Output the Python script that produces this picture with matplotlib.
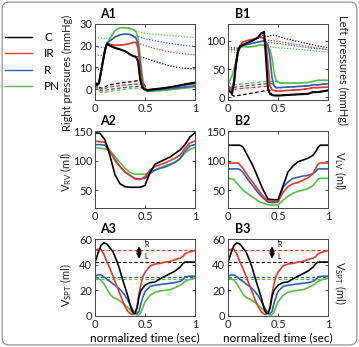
import matplotlib
matplotlib.use('Agg')
import matplotlib.pyplot as plt
from matplotlib.patches import FancyBboxPatch

plt.rcParams['font.family'] = ['Lato', 'DejaVu Sans']
plt.rcParams['mathtext.fontset'] = 'custom'
plt.rcParams['mathtext.rm'] = 'Lato'
plt.rcParams['mathtext.it'] = 'Lato:italic'
plt.rcParams['font.size'] = 8

names = ['C', 'IR', 'R', 'PN']
colors = ['black', '#e5392b', '#2f5fb8', '#5bbb48']

# ---- A1: right heart pressures (mmHg) ----
t_a1 = [0, 0.02, 0.04, 0.06, 0.08, 0.1, 0.12, 0.15, 0.2, 0.25, 0.3, 0.35,
        0.38, 0.41, 0.43, 0.45, 0.47, 0.49, 0.52, 0.6, 0.7, 0.8, 0.9, 1.0]
rv_p = [
    [3, 2, 3, 8, 13, 18, 21, 20, 19, 18.3, 17.5, 16, 15.3, 14.8, 13, 5, 1, 0, -0.5, 0, 0.5, 1.3, 2.2, 3],
    [2.6, 2, 3, 8, 13, 18, 21, 20.6, 20.2, 20.3, 20.5, 21, 21.5, 21.5, 19, 10, 3, 0.5, -0.3, 0, 0.5, 1.2, 2, 2.6],
    [2, 1.5, 2.5, 7.5, 13, 18, 21, 22.3, 24, 25, 25.4, 25.2, 24.5, 23.5, 21, 13, 4, 0.5, -0.8, -0.5, 0, 0.5, 1, 1.5],
    [1.5, 1.5, 3, 8, 13, 18, 21, 23.5, 27, 28.3, 28.3, 28, 27.5, 26.5, 24, 16, 7, 1.5, -1, -0.8, -0.5, 0, 0.5, 1],
]
pa_p = [
    [9.3, 9.2, 9.1, 9, 13, 18, 21, 20, 19, 18.3, 17.5, 16, 15.3, 15, 14.9, 14.8, 14.6, 14.4, 14, 12.8, 11.3, 10.2, 9.6, 9.3],
    [15.8, 15.7, 15.6, 15.5, 15.4, 18, 21, 20.6, 20.2, 20.3, 20.5, 21, 21.5, 21.5, 21.2, 20.8, 20.5, 20.2, 19.8, 18.7, 17.6, 16.8, 16.2, 15.8],
    [19.6, 19.5, 19.4, 19.3, 19.2, 19.2, 21, 22.3, 24, 25, 25.4, 25.2, 24.5, 24.3, 24.2, 23.9, 23.6, 23.3, 23, 22.3, 21.4, 20.7, 20.1, 19.6],
    [23.8, 23.7, 23.6, 23.5, 23.4, 23.3, 23.2, 23.5, 27, 28.3, 28.3, 28, 27.5, 26.8, 26.5, 26.2, 26, 25.9, 25.7, 25.3, 24.9, 24.5, 24.1, 23.8],
]
ra_p = [
    [3, 2, 1, 0.5, 0.5, 1, 1.5, 2, 2.4, 2.8, 3.1, 3.4, 3.6, 3.8, 3.9, 4, 3.8, 2.5, -0.5, 0, 0.5, 1.3, 2.2, 3],
    [2.6, 1.5, 0.5, 0, 0, 0.3, 0.6, 1, 1.3, 1.6, 1.9, 2.1, 2.2, 2.3, 2.4, 2.4, 2.3, 1.5, -0.3, 0, 0.5, 1.2, 2, 2.6],
    [1.5, 0.8, -0.2, -0.7, -0.8, -0.6, -0.4, -0.1, 0.2, 0.5, 0.8, 1, 1.1, 1.2, 1.3, 1.3, 1.2, 0.5, -0.8, -0.5, 0, 0.5, 1, 1.5],
    [1, 0.3, -0.8, -1.5, -1.6, -1.5, -1.3, -1, -0.6, -0.3, 0, 0.2, 0.3, 0.4, 0.5, 0.6, 0.6, 0, -1, -0.8, -0.5, 0, 0.5, 1],
]

# ---- B1: left heart pressures (mmHg) ----
t_b1 = [0, 0.02, 0.04, 0.06, 0.08, 0.1, 0.12, 0.15, 0.2, 0.25, 0.3, 0.33, 0.36,
        0.38, 0.4, 0.42, 0.44, 0.46, 0.48, 0.52, 0.6, 0.7, 0.8, 0.85, 0.9, 1.0]
lv_p = [
    [13, 10, 6, 25, 60, 82, 90, 93, 97, 101, 106, 113, 116, 70, 15, 6, 4, 3, 3, 3, 4, 5, 6, 9, 9, 12],
    [16, 14, 12, 25, 55, 80, 92, 98, 101, 103, 105, 107, 104, 95, 60, 20, 13, 12, 11, 11, 12, 13, 15, 17, 17, 18],
    [19, 17, 16, 30, 58, 80, 90, 92, 94, 96, 98, 99, 100, 98, 92, 70, 35, 20, 17, 17, 18, 19, 20, 22, 22, 24],
    [27, 30, 38, 50, 65, 78, 88, 90, 89, 90, 92, 93, 92, 91, 88, 85, 70, 45, 30, 25, 25, 25, 26, 28, 30, 30],
]
ao_p = [
    [88, 87.8, 87.6, 87.4, 87.2, 87, 90, 93, 97, 101, 106, 110, 110, 108, 108, 109, 110, 110, 109, 107, 103, 99, 95, 93, 91, 88],
    [84, 83.9, 83.8, 83.6, 83.4, 83, 92, 98, 101, 103, 105, 106, 104, 102, 101, 101, 100.5, 100, 99.5, 99, 96, 93, 90, 88.5, 87, 84],
    [85, 84.9, 84.8, 84.6, 84.4, 84, 90, 92, 94, 96, 98, 99, 100, 98, 97, 97, 96.5, 96, 95.5, 95, 93, 90.5, 88, 87, 86, 85],
    [80, 79.9, 79.8, 79.6, 79.4, 79, 88, 90, 89, 90, 92, 93, 92, 91, 90, 89.5, 89, 88.5, 88, 87.5, 86.5, 85, 83.5, 82.5, 81.5, 80],
]
la_p = [
    [13, 10, 4, 2, 2.5, 3, 3.5, 4.5, 6, 7.5, 9, 10, 11, 12, 12.5, 12, 5, 3, 3, 3, 4, 5, 6, 9, 9, 12],
    [16, 14, 13, 14, 14.5, 15, 15.3, 15.8, 16.5, 17.2, 18, 18.5, 19, 19.2, 19.5, 19.5, 15, 12, 11, 11, 12, 13, 15, 17, 17, 18],
    [19, 17, 17, 17.5, 18, 18.5, 19, 19.5, 20.5, 21.5, 22.5, 23, 23.5, 24, 24, 24, 24, 20, 17, 17, 18, 19, 20, 22, 22, 24],
    [27, 25, 22, 21.5, 22, 22.5, 23, 23.5, 24.5, 25.5, 26.5, 27, 27.5, 28, 28, 28, 28, 28, 28, 25, 25, 25, 26, 28, 30, 30],
]

# ---- A2 / B2: ventricular volumes (ml) ----
t_a2 = [0, 0.05, 0.1, 0.15, 0.2, 0.25, 0.3, 0.35, 0.4, 0.45, 0.5,
        0.55, 0.6, 0.65, 0.7, 0.75, 0.8, 0.85, 0.9, 0.95, 1.0]
rv_vol = [
    [147, 146, 135, 108, 76, 61, 56, 55, 55, 55, 58, 80, 94, 98, 102, 106, 112, 118, 127, 140, 147],
    [133, 132, 131, 116, 100, 90, 81, 75, 69, 68, 73, 84, 90, 93, 96, 100, 104, 109, 121, 130, 133],
    [127, 127, 126, 115, 102, 90, 81, 75, 70, 69, 70, 78, 84, 87, 89, 93, 97, 103, 116, 125, 127],
    [122, 121, 120, 117, 107, 97, 87, 80, 77, 77, 77, 80, 84, 88, 91, 94, 98, 103, 113, 119, 122],
]
t_b2 = [0, 0.05, 0.1, 0.12, 0.15, 0.2, 0.25, 0.3, 0.35, 0.4, 0.45, 0.5,
        0.55, 0.6, 0.65, 0.7, 0.75, 0.8, 0.85, 0.88, 0.9, 0.92, 0.95, 1.0]
lv_vol = [
    [126, 126, 126, 126, 123, 107, 91, 71, 51, 35, 34, 34, 57, 81, 91, 98, 101, 104, 109, 116, 122, 126, 126, 126],
    [96, 96, 96, 93, 87, 74, 63, 51, 40, 32, 31, 31, 46, 56, 61, 63, 67, 71, 78, 88, 94, 96, 96, 96],
    [86, 86, 86, 85, 80, 68, 57, 46, 37, 30, 29, 30, 55, 64, 70, 72, 74, 75, 78, 82, 86, 86, 86, 86],
    [70, 69, 60, 56, 50, 44, 38, 32, 28, 25.5, 25, 25, 33, 40, 45, 48, 50, 53, 58, 64, 69, 70, 70, 70],
]

# ---- A3 / B3: septal volume (ml) ----
t_a3 = [0, 0.03, 0.06, 0.09, 0.12, 0.15, 0.18, 0.21, 0.24, 0.27, 0.3, 0.33,
        0.36, 0.38, 0.4, 0.42, 0.44, 0.46, 0.48, 0.5, 0.55, 0.6, 0.65, 0.7,
        0.75, 0.8, 0.85, 0.88, 0.9, 0.95, 1.0]
spt_vol = [
    [42, 49, 55, 57, 56, 53, 50, 44.5, 38, 30, 22.5, 15, 6, 2.5, 2, 6, 15, 20, 22, 24, 26, 26.5, 29, 31, 33, 35, 38, 41, 42, 42, 42],
    [51, 52, 52, 48, 42, 37, 31, 25, 19, 13, 7.5, 3.5, 1.5, 1.2, 3, 7, 17, 25, 31, 34, 39, 40.5, 41, 42, 42.5, 44, 45, 46.5, 48.5, 50, 51],
    [31, 32, 32, 30.5, 28.5, 27, 25, 23.5, 21.5, 19, 16, 12, 7.5, 4.5, 2.5, 2, 3.5, 10, 15, 19, 23, 24, 24.5, 25, 25.5, 26, 27, 28.5, 30.5, 31, 31],
    [29.5, 29, 28, 25, 21, 17, 14.5, 13.5, 12.3, 10.5, 8.5, 6.5, 4, 2.5, 1.5, 0.8, 1, 3, 7, 11, 16, 18.5, 19.5, 20, 20.5, 22, 24, 25.5, 27, 28.5, 29.5],
]
spt_ref = [42.3, 51.4, 30.6, 28.6]

xticks = [0, 0.5, 1]
xticklabels = ['0', '0.5', '1']

W, H = 359, 347
fig = plt.figure(figsize=(W / 100, H / 100), dpi=100)


def px_axes(left, top, w, h):
    return fig.add_axes([left / W, 1 - (top + h) / H, w / W, h / H])


def style(ax, ylim, yticks):
    ax.set_xlim(0, 1)
    ax.set_ylim(*ylim)
    ax.set_xticks(xticks)
    ax.set_xticklabels(xticklabels)
    ax.set_yticks(yticks)
    ax.tick_params(direction='in', length=2.5, width=0.6, top=True, right=True,
                   pad=2, labelsize=8, colors='#222222')
    for s in ax.spines.values():
        s.set_linewidth(0.7)
        s.set_color('#444444')


def panel_title(ax, txt, dx=0.05):
    ax.text(dx, 1.05, txt, transform=ax.transAxes, fontsize=9,
            fontweight='bold', ha='left', va='bottom')


ax_a1 = px_axes(95, 24, 100, 76)
ax_b1 = px_axes(228, 24, 100, 76)
ax_a2 = px_axes(95, 131, 100, 77)
ax_b2 = px_axes(228, 131, 100, 77)
ax_a3 = px_axes(95, 239, 100, 77)
ax_b3 = px_axes(228, 239, 100, 77)

# pressures
for ax, t, solid, dotted, dashed in [(ax_a1, t_a1, rv_p, pa_p, ra_p),
                                     (ax_b1, t_b1, lv_p, ao_p, la_p)]:
    for i in range(4):
        ax.plot(t, dotted[i], color=colors[i], lw=0.9, ls=(0, (1, 1.3)))
        ax.plot(t, dashed[i], color=colors[i], lw=0.9, ls=(0, (3, 1.8)))
    for i in range(3, -1, -1):
        ax.plot(t, solid[i], color=colors[i], lw=1.5 if i == 0 else 1.2)
style(ax_a1, (-5, 30), [0, 10, 20, 30])
style(ax_b1, (-5, 130), [0, 50, 100])

# volumes
for i in range(3, -1, -1):
    ax_a2.plot(t_a2, rv_vol[i], color=colors[i], lw=1.2)
    ax_b2.plot(t_b2, lv_vol[i], color=colors[i], lw=1.2)
style(ax_a2, (20, 150), [50, 100, 150])
style(ax_b2, (20, 150), [50, 100, 150])

for ax in (ax_a3, ax_b3):
    for i in range(4):
        ax.axhline(spt_ref[i], color=colors[i], lw=0.8, ls=(0, (3, 2)))
    for i in range(3, -1, -1):
        ax.plot(t_a3, spt_vol[i], color=colors[i], lw=1.2)
    ax.annotate('', xy=(0.44, 54.5), xytext=(0.44, 44.5),
                arrowprops=dict(arrowstyle='<|-|>', color='black', lw=1.4,
                                mutation_scale=6, shrinkA=0, shrinkB=0))
    ax.text(0.49, 55.5, 'R', fontsize=5, ha='left', va='center')
    ax.text(0.49, 46.5, 'L', fontsize=5, ha='left', va='center')
    style(ax, (0, 60), [0, 20, 40, 60])
    ax.set_xlabel('normalized time (sec)', fontsize=8.5, labelpad=2)

for ax, txt in [(ax_a1, 'A1'), (ax_b1, 'B1'), (ax_a2, 'A2'),
                (ax_b2, 'B2'), (ax_a3, 'A3'), (ax_b3, 'B3')]:
    panel_title(ax, txt, 0.05 if txt[0] == 'A' else 0.07)

# axis labels placed in figure pixels
ylabels = [
    ('Right pressures (mmHg)', 67, 73, 90),
    ('Left pressures (mmHg)', 343, 70, 270),
    (r'V$_{\rm RV}$ (ml)', 66, 172, 90),
    (r'V$_{\rm LV}$ (ml)', 340, 171, 270),
    (r'V$_{\rm SPT}$ (ml)', 66, 285, 90),
    (r'V$_{\rm SPT}$ (ml)', 340, 283, 270),
]
for txt, x, y, rot in ylabels:
    fig.text(x / W, 1 - y / H, txt, rotation=rot, ha='center', va='center',
             fontsize=8, color='#222222')

# legend
handles = [plt.Line2D([], [], color=c, lw=1.0) for c in colors]
fig.legend(handles, names, loc='upper left', bbox_to_anchor=(4 / W, 1 - 31 / H),
           frameon=False, fontsize=8.5, handlelength=2.3, handletextpad=1.0,
           labelspacing=0.45, borderpad=0.1, borderaxespad=0)

# rounded border round the whole figure
fig.patches.append(FancyBboxPatch((0.006, 0.006), 0.988, 0.988,
                                  boxstyle='round,pad=0,rounding_size=0.02',
                                  transform=fig.transFigure, fill=False,
                                  edgecolor='#8a8a8a', lw=0.8))

fig.savefig('out.png', dpi=100)
